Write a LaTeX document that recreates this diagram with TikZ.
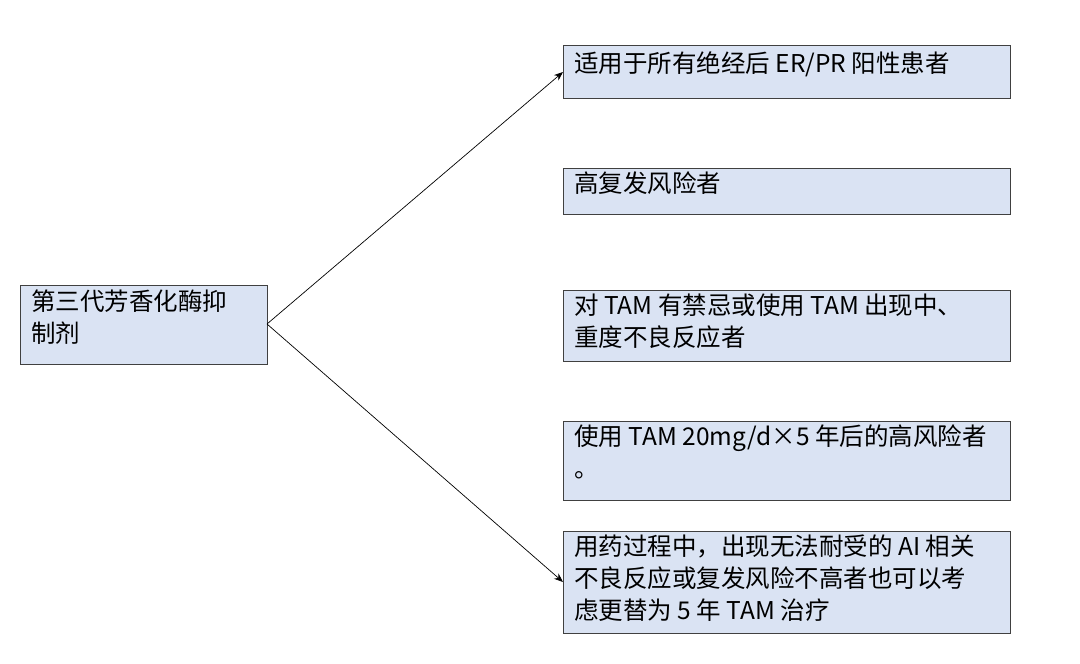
\documentclass[tikz,border=0pt]{standalone}
\usepackage{fontspec}
\setmainfont{Noto Sans CJK SC}
\usetikzlibrary{arrows.meta}
\begin{document}
\begin{tikzpicture}[x=1pt,y=-1pt,
  box/.style={draw=black!75,fill={rgb,255:red,218;green,227;blue,243},line width=0.8pt},
  txt/.style={anchor=north west,align=left,inner sep=0pt,font=\fontsize{24.5}{32}\selectfont},
  arr/.style={-{Stealth[length=9pt,width=7pt]},line width=0.7pt}]
\useasboundingbox (0,0) rectangle (1080,664);
\draw[box] (20,285) rectangle (267,364);
\node[txt] (l) at (31,290) {第三代芳香化酶抑\\制剂};
\coordinate (lo) at (267,324);
\draw[box] (563,45) rectangle (1010,98);
\node[txt] (a) at (574,51) {适用于所有绝经后 ER/PR 阳性患者};
\draw[box] (563,168) rectangle (1010,214);
\node[txt] (b) at (574,172) {高复发风险者};
\draw[box] (563,290) rectangle (1010,361);
\node[txt] (c) at (574,294) {对 TAM 有禁忌或使用 TAM 出现中、\\重度不良反应者};
\draw[box] (563,421) rectangle (1010,500);
\node[txt] (d) at (574,425) {使用 TAM 20mg/d×5 年后的高风险者\\。};
\draw[box] (563,531) rectangle (1010,633);
\node[txt] (e) at (574,535) {用药过程中，出现无法耐受的 AI 相关\\不良反应或复发风险不高者也可以考\\虑更替为 5 年 TAM 治疗};
\coordinate (t1) at (563,72);
\coordinate (t2) at (563,582);
\draw[arr] (lo) -- (t1);
\draw[arr] (lo) -- (t2);
\end{tikzpicture}
\end{document}
